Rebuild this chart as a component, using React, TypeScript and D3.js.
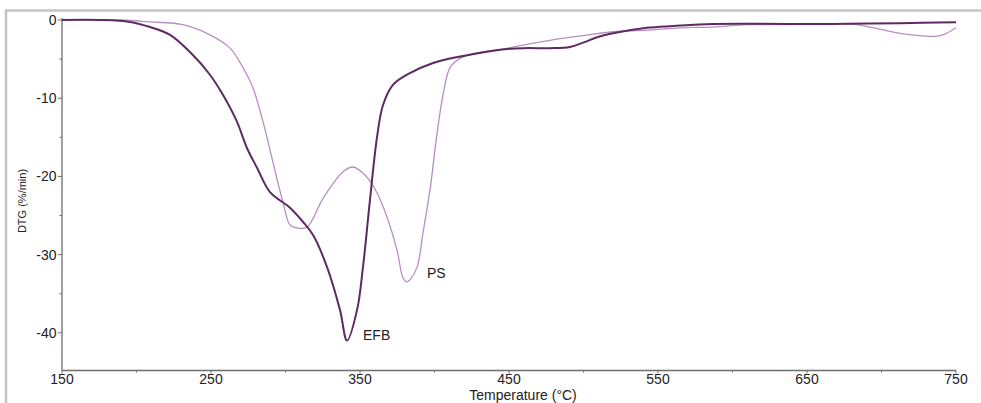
import React from "react";
import * as d3 from "d3";

const efbTemp = [150, 175.5, 195.6, 209.1, 222.5, 235.9, 249.3, 258.1, 267.4, 274.2, 280.9, 289.6, 303.0, 311.7, 318.5, 327.9, 336.6, 341.3, 348.0, 352.0, 356.7, 361.4, 365.4, 372.1, 381.5, 399.0, 421.8, 444.0, 459.4, 477.5, 490.9, 499.7, 509.1, 519.8, 542.6, 560.1, 586.9, 636.6, 665.4, 712.4, 750];
const efbDtg = [0, 0, -0.25, -0.9, -1.9, -4.1, -7.0, -9.6, -13.0, -16.4, -18.9, -22.0, -24.0, -25.8, -27.5, -31.6, -37.1, -41.0, -37.1, -31.6, -23.0, -15.0, -10.9, -8.3, -7.0, -5.5, -4.5, -3.8, -3.6, -3.6, -3.45, -2.9, -2.2, -1.7, -1.0, -0.77, -0.5, -0.5, -0.5, -0.4, -0.3];

const psTemp = [150, 190, 209.1, 231.2, 249.3, 262.8, 271.5, 278.2, 284.9, 291.6, 298.3, 303.0, 307.7, 314.4, 325.2, 338.6, 345.3, 354.7, 361.4, 368.1, 374.8, 378.9, 381.5, 383.6, 388.3, 392.3, 397.0, 401.7, 405.7, 410.4, 417.1, 428.5, 444.0, 459.4, 477.5, 499.7, 519.8, 542.6, 564.8, 586.9, 609.7, 631.9, 665.4, 678.9, 692.3, 712.4, 725.8, 736, 742.6, 750];
const psDtg = [0, 0, -0.25, -0.6, -1.9, -3.6, -6.1, -8.7, -13.0, -18.2, -23.3, -26.2, -26.6, -26.5, -22.8, -19.4, -18.8, -20.1, -22.1, -25.2, -29.4, -33.0, -33.5, -33.2, -31.6, -27.2, -21.7, -14.5, -9.6, -6.1, -4.9, -4.2, -3.8, -3.2, -2.6, -2.0, -1.5, -1.3, -1.0, -0.9, -0.6, -0.6, -0.5, -0.5, -0.9, -1.7, -2.0, -2.1, -1.8, -1.0];

const xMajorTicks = [150, 250, 350, 450, 550, 650, 750];
const xMinorTicks = [200, 300, 400, 500, 600, 700];
const yMajorTicks = [0, -10, -20, -30, -40];
const yMinorTicks = [-5, -15, -25, -35];

export default function App() {
  const x = d3.scaleLinear().domain([150, 750]).range([62, 956]);
  const y = d3.scaleLinear().domain([0, -40]).range([20, 332.8]);
  const yBottom = 370.5;
  const yTop = 18;
  const line = d3
    .line<[number, number]>()
    .x((d) => x(d[0]))
    .y((d) => y(d[1]))
    .curve(d3.curveCatmullRom.alpha(0.5));
  const efb = efbTemp.map((t, i) => [t, efbDtg[i]] as [number, number]);
  const ps = psTemp.map((t, i) => [t, psDtg[i]] as [number, number]);
  const axisColor = "#6e6e6e";
  const font = "Liberation Sans, Arial, sans-serif";
  return (
    <svg
      width={981}
      height={403}
      style={{ position: "absolute", left: 0, top: 0, background: "#fff" }}
      fontFamily={font}
    >
      <rect x={6} y={10.5} width={1000} height={420} fill="none" stroke="#c4c4c4" strokeWidth={2.5} />
      <line x1={62} x2={62} y1={yTop} y2={yBottom} stroke={axisColor} strokeWidth={1.3} />
      <line x1={62} x2={956} y1={yBottom} y2={yBottom} stroke={axisColor} strokeWidth={1.3} />
      {yMajorTicks.map((v) => (
        <g key={"ym" + v}>
          <line x1={58} x2={62} y1={y(v)} y2={y(v)} stroke={axisColor} strokeWidth={1} />
          <text x={56.5} y={y(v)} dy="0.35em" textAnchor="end" fontSize={14} fill="#222">
            {v}
          </text>
        </g>
      ))}
      {yMinorTicks.map((v) => (
        <line key={"yn" + v} x1={59.5} x2={62} y1={y(v)} y2={y(v)} stroke={axisColor} strokeWidth={1} />
      ))}
      {xMajorTicks.map((v) => (
        <g key={"xm" + v}>
          <line x1={x(v)} x2={x(v)} y1={yBottom} y2={yBottom + 3} stroke={axisColor} strokeWidth={1} />
          <text x={x(v)} y={yBottom + 13.5} textAnchor="middle" fontSize={14} fill="#222">
            {v}
          </text>
        </g>
      ))}
      {xMinorTicks.map((v) => (
        <line key={"xn" + v} x1={x(v)} x2={x(v)} y1={yBottom} y2={yBottom + 2} stroke={axisColor} strokeWidth={1} />
      ))}
      <text transform={`translate(26,201) rotate(-90)`} textAnchor="middle" fontSize={11} fill="#222">
        DTG (%/min)
      </text>
      <text x={523} y={400} textAnchor="middle" fontSize={14} fill="#222">
        Temperature (°C)
      </text>
      <path d={line(ps) || ""} fill="none" stroke="#b78fc0" strokeWidth={1.3} />
      <path d={line(efb) || ""} fill="none" stroke="#5e2a62" strokeWidth={2} />
      <text x={363} y={340} fontSize={14} fill="#222">
        EFB
      </text>
      <text x={427} y={278} fontSize={14} fill="#222">
        PS
      </text>
    </svg>
  );
}
